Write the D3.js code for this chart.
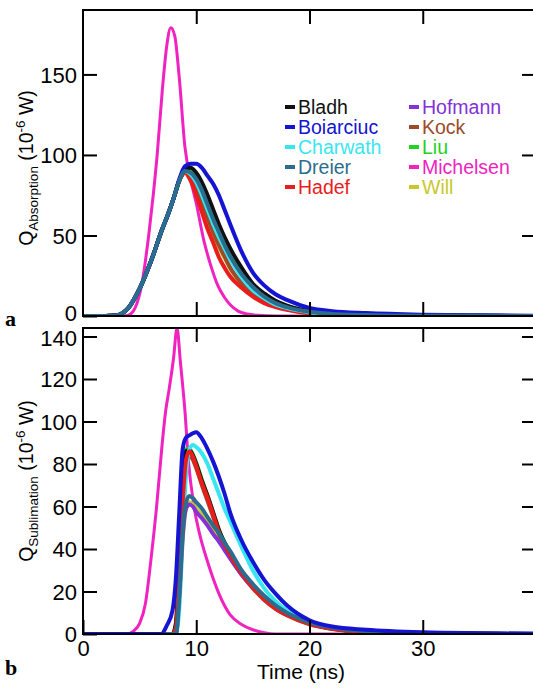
<!DOCTYPE html>
<html><head><meta charset="utf-8">
<script src="https://cdn.jsdelivr.net/npm/d3@7"></script>
<style>body{margin:0;background:#fff}svg{display:block}</style>
</head><body>
<script>
// ---------- DATA ----------
const seriesNames = ["Bladh","Boiarciuc","Charwath","Dreier","Hadef","Hofmann","Kock","Liu","Michelsen","Will"];
const seriesColors = ["#111111","#1414d2","#38e6f2","#2b6d8e","#ea1c1c","#8232d6","#9b4a2a","#22d222","#f022c0","#c8c82a"];

const xTicks = [0,10,20,30];
const absTicks = [0,50,100,150];
const subTicks = [0,20,40,60,80,100,120,140];

// (a) absorption, common time grid (ns)
const absTime = [0,2,3,4,5,6,7,7.5,8,8.5,9,9.5,10,10.5,11,11.5,12,12.5,13,14,15,16,17,18,20,22,25,30,35,40];
const absBladh     = [0,0,0.5,5,17,34,54,63,73,84,91,92,89,83,75,66,57,49,42,30,20,14,9.5,6.5,3,1.6,0.8,0.3,0.1,0];
const absBoiarciuc = [0,0,0.5,5,17,34,54,63,73,85,93,94.5,94.5,92,87,82,75,66,57,40,27,19,13.5,10,5,3,1.8,0.8,0.4,0.2];
const absCharwath  = [0,0,0.5,5,17,34,54,63,73,84,90,88,83,75,66,57,49,42,35,24,16,11,7,5,2.3,1.1,0.5,0.2,0.1,0];
const absDreier    = [0,0,0.5,5,17,34,54,63,73,84,90,89,85,78,69,60,52,44,37,26,18,12,8,5.5,2.6,1.3,0.6,0.2,0.1,0];
const absHadef     = [0,0,0.5,5,17,34,54,63,73,84,89,84,75,64.5,54,45.5,36.5,30,24.5,17.5,12,8,5.6,3.8,1.6,0.8,0.3,0.1,0,0];
const absHofmann   = [0,0,0.5,5,17,34,54,63,73,84,90,88.5,84,77,68,59,51,43,36,25,17.5,11.5,7.8,5.3,2.5,1.2,0.5,0.2,0.1,0];
const absKock      = [0,0,0.5,5,17,34,54,63,73,84,89,86,79,70,61,52,44,37,30,20.5,13.5,9.2,6.2,4.3,1.9,1,0.4,0.1,0,0];
const absLiu       = [0,0,0.5,5,17,34,54,63,73,84,91,91.5,88,82,74,65,56,48,41,29,19.5,13.5,9.2,6.3,2.9,1.5,0.7,0.3,0.1,0];
const absWill      = [0,0,0.5,5,17,34,54,63,73,84,89,85.5,78,69,60,51,43,36,29.5,20,13.5,9,6,4.2,1.9,0.9,0.4,0.1,0,0];
const absMichelsenTime = [0,3.5,4,4.6,5.2,5.8,6.2,6.55,7.0,7.4,7.75,8.1,8.5,9.0,9.5,10,10.7,11.3,11.9,12.5,13,13.7,14.5,15.5,17,40];
const absMichelsen     = [0,0,0.5,5,20,50,75,100,140,168,179,174,148,105,85,70,46,31,19,11.5,7,3,1.2,0.4,0,0];

// (b) sublimation, common time grid (ns)
const subTime = [0,6.9,7.4,7.9,8.2,8.5,8.8,9.1,9.4,9.7,10,10.5,11,11.5,12,12.5,13,14,15,16,17,18,20,22,25,30,35,40];
const subBladh     = [0,0,0,0,5,35,72,86,86.5,84,80,72,65,57,49,43,38,29,22.5,17,12.5,9.5,5,2.6,1.1,0.3,0.1,0];
const subBoiarciuc = [0,0,4,11,26,57,87,92.5,93.5,94.5,95,92,87,81,74,66,57,44,34,25.5,19,13.5,6.5,3.5,2,0.8,0.4,0.2];
const subCharwath  = [0,0,0,0,0,12,45,75,87,89,88,85,80,73,66,59,53,41,30,21.5,15.5,11,5.5,2.8,1.2,0.4,0.1,0];
const subDreier    = [0,0,0,0,0,18,48,62,65,64,62,59,55,51,47.5,43,39,30,23.5,18,13.5,10,5.5,3,1.3,0.4,0.1,0];
const subHadef     = [0,0,0,0,3,28,62,82,86,83.5,79,71,64,56,48,42,37,28.5,22,16.5,12,9,4.8,2.5,1,0.3,0.1,0];
const subHofmann   = [0,0,0,0,0,18,46,59,61,60,57.5,54.5,51,47,43.5,39.5,35.5,28,22,17,12.5,9.5,5,2.7,1.2,0.4,0.1,0];
const subKock      = [0,0,0,0,2,25,60,80,84,82,78,70,62.5,55,47,41,36,28,21.5,16,11.8,8.8,4.6,2.4,1,0.3,0.1,0];
const subLiu       = [0,0,0,0,4,32,70,87,87,84.5,80.5,72.5,65,57,49,43,38,29,22.5,17,12.5,9.5,5,2.6,1.1,0.3,0.1,0];
const subWill      = [0,0,0,0,0,15,44,59,62,61,59,56,52.5,48.5,45,41,37,29,22.5,17.5,13,9.8,5.2,2.8,1.2,0.4,0.1,0];
const subMichelsenTime = [0,3.8,4.5,5,5.5,6,6.5,7,7.3,7.6,8,8.3,8.6,9,9.3,9.8,10.3,11,11.5,12,13,14,15,16,17,40];
const subMichelsen     = [0,0,1.5,5,14,35,60,90,105,115,130,144,128,105,82,60,47,34,26,19,9,4.5,2,0.6,0,0];

// ---------- LAYOUT ----------
const W = 533, H = 689;
const X0 = 83, X1 = 536;
const panels = [
  {top:10, bottom:316, ymax:190, ticks:absTicks, label:"Absorption", tag:"a", labelY:168,
   series:{Bladh:[absTime,absBladh],Boiarciuc:[absTime,absBoiarciuc],Charwath:[absTime,absCharwath],
           Dreier:[absTime,absDreier],Hadef:[absTime,absHadef],Hofmann:[absTime,absHofmann],
           Kock:[absTime,absKock],Liu:[absTime,absLiu],Michelsen:[absMichelsenTime,absMichelsen],Will:[absTime,absWill]},
   order:["Michelsen","Will","Liu","Kock","Hofmann","Hadef","Charwath","Bladh","Boiarciuc","Dreier"]},
  {top:328, bottom:634, ymax:144, ticks:subTicks, label:"Sublimation", tag:"b", labelY:481,
   series:{Bladh:[subTime,subBladh],Boiarciuc:[subTime,subBoiarciuc],Charwath:[subTime,subCharwath],
           Dreier:[subTime,subDreier],Hadef:[subTime,subHadef],Hofmann:[subTime,subHofmann],
           Kock:[subTime,subKock],Liu:[subTime,subLiu],Michelsen:[subMichelsenTime,subMichelsen],Will:[subTime,subWill]},
   order:["Michelsen","Will","Liu","Kock","Bladh","Charwath","Hofmann","Hadef","Dreier","Boiarciuc"]}
];

const color = d3.scaleOrdinal().domain(seriesNames).range(seriesColors);
const x = d3.scaleLinear().domain([0,40]).range([X0,X1]);

const svg = d3.select("body").append("svg").attr("width",W).attr("height",H)
  .style("font-family","'Liberation Sans', Arial, sans-serif");
svg.append("rect").attr("width",W).attr("height",H).attr("fill","#fff");

panels.forEach((p,i)=>{
  const y = d3.scaleLinear().domain([0,p.ymax]).range([p.bottom,p.top]);
  const g = svg.append("g");
  const clipId = "clip"+i;
  svg.append("clipPath").attr("id",clipId).append("rect")
    .attr("x",X0).attr("y",p.top).attr("width",X1-X0).attr("height",p.bottom-p.top);

  // curves
  const line = d3.line().x(d=>x(d[0])).y(d=>y(d[1])).curve(d3.curveMonotoneX);
  const cg = g.append("g").attr("clip-path",`url(#${clipId})`);
  p.order.forEach(name=>{
    const [ts,vs] = p.series[name];
    cg.append("path").datum(ts.map((t,k)=>[t,vs[k]]))
      .attr("d",line).attr("fill","none").attr("stroke",color(name))
      .attr("stroke-width", name==="Michelsen"?3:4)
      .attr("stroke-linejoin","round").attr("stroke-linecap","round");
  });

  // axes with inward ticks
  const tk = 14;
  const yl = g.append("g").attr("transform",`translate(${X0},0)`)
    .call(d3.axisLeft(y).tickValues(p.ticks).tickSize(-tk).tickPadding(6).tickFormat(d3.format("d")));
  yl.select(".domain").remove();
  yl.selectAll("line").attr("stroke","#000").attr("stroke-width",2);
  yl.selectAll("text").attr("font-size",22).attr("fill","#000")
    .attr("dy", d => (i===0 && d===0) ? "0.22em" : (i===1 && d===140 ? "0.42em" : "0.36em"));

  const yr = g.append("g").attr("transform",`translate(${X1},0)`)
    .call(d3.axisRight(y).tickValues(p.ticks.filter(v=>v>0)).tickSize(-tk).tickFormat(""));
  yr.select(".domain").remove();
  yr.selectAll("line").attr("stroke","#000").attr("stroke-width",2);

  const xt = g.append("g").attr("transform",`translate(0,${p.top})`)
    .call(d3.axisTop(x).tickValues(xTicks.filter(v=>v>0)).tickSize(-tk).tickFormat(""));
  xt.select(".domain").remove();
  xt.selectAll("line").attr("stroke","#000").attr("stroke-width",2);

  const xb = g.append("g").attr("transform",`translate(0,${p.bottom})`)
    .call(d3.axisBottom(x).tickValues(i===1?xTicks:xTicks.filter(v=>v>0)).tickSize(-tk).tickPadding(5)
      .tickFormat(i===1?d3.format("d"):""));
  xb.select(".domain").remove();
  xb.selectAll("line").attr("stroke","#000").attr("stroke-width",2);
  xb.selectAll("text").attr("font-size",22).attr("fill","#000").attr("dy","0.76em");

  // frame
  g.append("rect").attr("x",X0).attr("y",p.top).attr("width",X1-X0).attr("height",p.bottom-p.top)
    .attr("fill","none").attr("stroke","#000").attr("stroke-width",2);

  // y label
  const t = svg.append("text").attr("transform",`translate(33,${p.labelY}) rotate(-90)`)
    .attr("text-anchor","middle").attr("font-size",19.5).attr("fill","#000");
  t.append("tspan").text("Q");
  t.append("tspan").attr("font-size",13.5).attr("dy",4.5).text(p.label);
  t.append("tspan").attr("dy",-4.5).text(" (10");
  t.append("tspan").attr("font-size",13.5).attr("dy",-8).text("-6");
  t.append("tspan").attr("dy",8).text(" W)");

  // panel tag
  svg.append("text").attr("x",5).attr("y",i===0?326:675)
    .attr("font-family","'Liberation Serif', serif").attr("font-weight","bold")
    .attr("font-size",22).attr("fill","#000").text(p.tag);
});

// x label
svg.append("text").attr("x",301).attr("y",679).attr("text-anchor","middle")
  .attr("font-size",21).attr("fill","#000").text("Time (ns)");

// legend
const lg = svg.append("g");
seriesNames.forEach((n,k)=>{
  const col = Math.floor(k/5), row = k%5;
  const lx = col===0?285:409, ly = 107 + row*20;
  lg.append("line").attr("x1",lx).attr("x2",lx+10).attr("y1",ly).attr("y2",ly)
    .attr("stroke",color(n)).attr("stroke-width",4);
  lg.append("text").attr("x",lx+13).attr("y",ly+7).attr("font-size",19.5)
    .attr("fill",color(n)).text(n);
});
</script>
</body></html>
